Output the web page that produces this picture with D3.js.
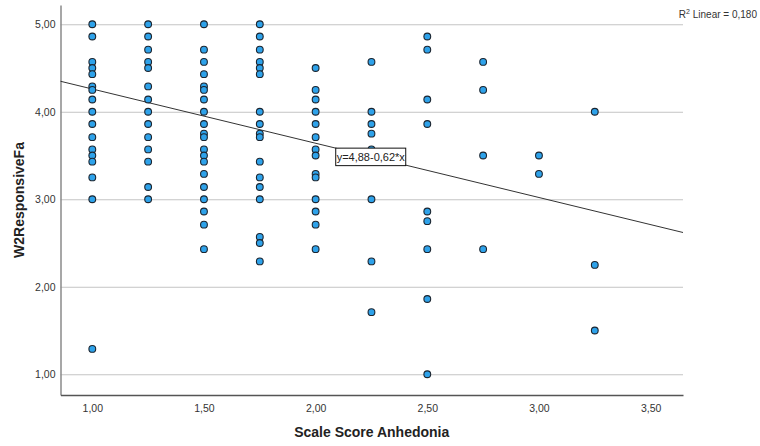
<!DOCTYPE html>
<html>
<head>
<meta charset="utf-8">
<script src="https://cdn.jsdelivr.net/npm/d3@7"></script>
<style>
  body { margin: 0; background: #fff; }
  .tick text { font-family: "Liberation Sans Narrow", "Arial Narrow", "Liberation Sans", Arial, sans-serif; font-size: 10.5px; fill: #333; }
</style>
</head>
<body>
<div class="chart"></div>
<script>
// Scale Score Anhedonia (x) and W2ResponsiveFa (y), one point per case
var anhedonia = [
  1,1,1,1,1,1,1,1,1,1,1,1,1,1,1,1,1,
  1.25,1.25,1.25,1.25,1.25,1.25,1.25,1.25,1.25,1.25,1.25,1.25,1.25,1.25,
  1.5,1.5,1.5,1.5,1.5,1.5,1.5,1.5,1.5,1.5,1.5,1.5,1.5,1.5,1.5,1.5,1.5,1.5,1.5,1.5,
  1.75,1.75,1.75,1.75,1.75,1.75,1.75,1.75,1.75,1.75,1.75,1.75,1.75,1.75,1.75,1.75,1.75,
  2,2,2,2,2,2,2,2,2,2,2,2,2,2,
  2.25,2.25,2.25,2.25,2.25,2.25,2.25,2.25,
  2.5,2.5,2.5,2.5,2.5,2.5,2.5,2.5,2.5,
  2.75,2.75,2.75,2.75,
  3,3,
  3.25,3.25,3.25
];
var responsive = [
  5.00,4.86,4.57,4.50,4.43,4.29,4.25,4.14,4.00,3.86,3.71,3.57,3.50,3.43,3.25,3.00,1.29,
  5.00,4.86,4.71,4.57,4.50,4.29,4.14,4.00,3.86,3.71,3.57,3.43,3.14,3.00,
  5.00,4.71,4.57,4.43,4.29,4.25,4.14,4.00,3.86,3.75,3.71,3.57,3.50,3.43,3.29,3.14,3.00,2.86,2.71,2.43,
  5.00,4.86,4.71,4.57,4.50,4.43,4.00,3.86,3.75,3.71,3.43,3.25,3.14,3.00,2.57,2.50,2.29,
  4.50,4.25,4.14,4.00,3.86,3.71,3.57,3.50,3.29,3.25,3.00,2.86,2.71,2.43,
  4.57,4.00,3.86,3.75,3.57,3.00,2.29,1.71,
  4.86,4.71,4.14,3.86,2.86,2.75,2.43,1.86,1.00,
  4.57,4.25,3.50,2.43,
  3.50,3.29,
  4.00,2.25,1.50
];
var xTicks = [1, 1.5, 2, 2.5, 3, 3.5];
var yTicks = [1, 2, 3, 4, 5];
var fit = {intercept: 4.88, slope: -0.62, r2: 0.180};

var margin = {top: 5, right: 77, bottom: 51, left: 60.5};
var fullWidth = 760, fullHeight = 446;
var width = fullWidth - margin.left - margin.right;
var height = fullHeight - margin.top - margin.bottom;

var comma = d => d3.format(`.2f`)(d).replace(`.`, `,`);

var svg = d3.select(`.chart`)
    .append(`svg`)
    .attr(`width`, fullWidth)
    .attr(`height`, fullHeight)
    .append(`g`)
    .attr(`transform`, `translate(${margin.left},${margin.top})`);

var xScale = d3.scaleLinear().domain([0.8576, 3.645]).range([0, width]);
var yScale = d3.scaleLinear().domain([0.763, 5.22]).range([height, 0]);

// horizontal grid
svg.append(`g`)
    .call(d3.axisLeft(yScale).tickValues(yTicks).tickSize(-width).tickFormat(``))
    .call(g => g.select(`.domain`).remove())
    .selectAll(`line`).attr(`stroke`, `#c4c4c4`);

var yAxis = svg.append(`g`)
    .call(d3.axisLeft(yScale).tickValues(yTicks).tickSize(0).tickPadding(5).tickFormat(comma));
yAxis.select(`.domain`).attr(`stroke`, `#8a8a8a`).attr(`stroke-width`, 1.5);

var xAxis = svg.append(`g`)
    .attr(`transform`, `translate(0, ${height})`)
    .call(d3.axisBottom(xScale).tickValues(xTicks).tickSize(0).tickPadding(10).tickFormat(comma));
xAxis.select(`.domain`).attr(`stroke`, `#555`).attr(`stroke-width`, 1.3);

// fit line
var x0 = xScale.domain()[0], x1 = xScale.domain()[1];
svg.append(`line`)
    .attr(`x1`, xScale(x0)).attr(`y1`, yScale(fit.intercept + fit.slope * x0))
    .attr(`x2`, xScale(x1)).attr(`y2`, yScale(fit.intercept + fit.slope * x1))
    .attr(`stroke`, `#333`)
    .attr(`stroke-width`, 1);

var pts = anhedonia.map((a, i) => ({x: a, y: responsive[i]}));
svg.selectAll(`.dot`)
    .data(pts)
    .enter()
    .append(`circle`)
    .attr(`class`, `dot`)
    .attr(`cx`, d => xScale(d.x))
    .attr(`cy`, d => yScale(d.y))
    .attr(`r`, 3.4)
    .style(`fill`, `#2ea2ea`)
    .style(`stroke`, `#1b2530`)
    .style(`stroke-width`, 1.1);

// equation label on the line
var lx = 2.09;
var label = svg.append(`g`)
    .attr(`transform`, `translate(${xScale(lx)}, ${yScale(fit.intercept + fit.slope * lx)})`);
label.append(`rect`)
    .attr(`width`, 70).attr(`height`, 17.5)
    .attr(`fill`, `#fff`).attr(`stroke`, `#111`).attr(`stroke-width`, 1);
label.append(`text`)
    .attr(`x`, 35).attr(`y`, 12.5)
    .style(`text-anchor`, `middle`)
    .style(`font-family`, `"Liberation Sans Narrow", "Arial Narrow", "Liberation Sans", Arial, sans-serif`)
    .style(`font-size`, `11px`)
    .style(`fill`, `#222`)
    .text(`y=${comma(fit.intercept)}-${comma(-fit.slope)}*x`);

// R squared note
var r2 = svg.append(`text`)
    .attr(`x`, fullWidth - margin.left - 3)
    .attr(`y`, 13)
    .style(`text-anchor`, `end`)
    .style(`font-family`, `"Liberation Sans Narrow", "Arial Narrow", "Liberation Sans", Arial, sans-serif`)
    .style(`font-size`, `10px`)
    .style(`fill`, `#333`);
r2.append(`tspan`).text(`R`);
r2.append(`tspan`).attr(`dy`, -4).style(`font-size`, `7px`).text(`2`);
r2.append(`tspan`).attr(`dy`, 4).text(` Linear = ${d3.format(`.3f`)(fit.r2).replace(`.`, `,`)}`);

// axis titles
svg.append(`text`)
    .attr(`x`, width / 2)
    .attr(`y`, height + 42)
    .style(`text-anchor`, `middle`)
    .style(`font-family`, `"Liberation Sans", Arial, sans-serif`)
    .style(`font-size`, `14px`)
    .style(`font-weight`, `bold`)
    .style(`fill`, `#222`)
    .text(`Scale Score Anhedonia`);

svg.append(`text`)
    .attr(`transform`, `translate(${-margin.left + 24}, ${height / 2}) rotate(-90)`)
    .style(`text-anchor`, `middle`)
    .style(`font-family`, `"Liberation Sans", Arial, sans-serif`)
    .style(`font-size`, `14px`)
    .style(`font-weight`, `bold`)
    .style(`fill`, `#222`)
    .text(`W2ResponsiveFa`);
</script>
</body>
</html>
